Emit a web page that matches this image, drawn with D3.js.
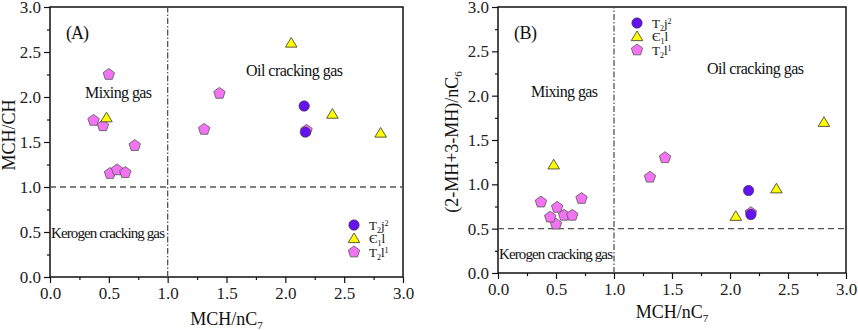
<!DOCTYPE html>
<html lang="en">
<head>
    <meta charset="UTF-8">
    <title>MCH diagrams</title>
    <style>
        body { margin: 0; background: #fff; }
    </style>
    <script src="https://d3js.org/d3.v7.min.js"></script>
</head>
<body>
<svg id="chart" width="858" height="330"></svg>
<script>
    // T2j2 (circles)
    const t2j_A_x = [2.16, 2.17];
    const t2j_A_y = [1.90, 1.61];
    const t2j_B_x = [2.16, 2.18];
    const t2j_B_y = [0.93, 0.66];
    // Є1l (triangles)
    const e1l_A_x = [0.48, 2.05, 2.40, 2.81];
    const e1l_A_y = [1.77, 2.60, 1.81, 1.60];
    const e1l_B_x = [0.48, 2.05, 2.40, 2.81];
    const e1l_B_y = [1.22, 0.64, 0.95, 1.70];
    // T2l1 (pentagons)
    const t2l_A_x = [0.50, 0.37, 0.45, 0.72, 0.51, 0.57, 0.64, 1.31, 1.44, 2.18];
    const t2l_A_y = [2.25, 1.74, 1.68, 1.46, 1.15, 1.19, 1.16, 1.64, 2.04, 1.63];
    const t2l_B_x = [0.50, 0.37, 0.45, 0.72, 0.51, 0.57, 0.64, 1.31, 1.44, 2.18];
    const t2l_B_y = [0.55, 0.80, 0.63, 0.84, 0.74, 0.65, 0.65, 1.08, 1.30, 0.68];

    const xTicks = [0, 0.5, 1, 1.5, 2, 2.5, 3];
    const yTicks = [0, 0.5, 1, 1.5, 2, 2.5, 3];

    const svg = d3.select("#chart");
    const serif = "'Liberation Serif', 'Times New Roman', serif";

    const purple = "#6412ee", yellow = "#ffff00", pink = "#f274f2";

    function pentagon(cx, cy, r) {
        let pts = [];
        for (let i = 0; i < 5; i++) {
            const a = -Math.PI / 2 + i * 2 * Math.PI / 5;
            pts.push([cx + r * Math.cos(a), cy + r * Math.sin(a)]);
        }
        return "M" + pts.join("L") + "Z";
    }
    function triangle(cx, cy, r) {
        return `M${cx},${cy - r}L${cx + r * 1.05},${cy + r * 0.75}L${cx - r * 1.05},${cy + r * 0.75}Z`;
    }

    function drawMarker(g, type, cx, cy, size) {
        if (type === "circle") {
            g.append("circle").attr("cx", cx).attr("cy", cy).attr("r", size)
                .attr("fill", purple).attr("stroke", "#333").attr("stroke-width", 0.6);
        } else if (type === "tri") {
            g.append("path").attr("d", triangle(cx, cy, size))
                .attr("fill", yellow).attr("stroke", "#333").attr("stroke-width", 0.8);
        } else {
            g.append("path").attr("d", pentagon(cx, cy, size))
                .attr("fill", pink).attr("stroke", "#555").attr("stroke-width", 0.8);
        }
    }

    function txt(sel, size) {
        return sel.append("text").attr("font-family", serif).attr("font-size", size).attr("fill", "#111");
    }

    function panel(opt) {
        const x = d3.scaleLinear().domain([0, 3]).range([opt.left, opt.right]);
        const y = d3.scaleLinear().domain([0, 3]).range([opt.bottom, opt.top]);
        const g = svg.append("g");

        // axes with minor ticks
        const xMinor = d3.range(0.25, 3, 0.5);
        const yMinor = d3.range(0.25, 3, 0.5);
        g.append("g").attr("transform", `translate(0,${opt.bottom})`)
            .call(d3.axisBottom(x).tickValues(xMinor).tickSize(3).tickFormat(""));
        g.append("g").attr("transform", `translate(${opt.left},0)`)
            .call(d3.axisLeft(y).tickValues(yMinor).tickSize(3).tickFormat(""));
        const xa = g.append("g").attr("transform", `translate(0,${opt.bottom})`)
            .call(d3.axisBottom(x).tickValues(xTicks).tickSize(6).tickPadding(4).tickFormat(d3.format(".1f")));
        const ya = g.append("g").attr("transform", `translate(${opt.left},0)`)
            .call(d3.axisLeft(y).tickValues(yTicks).tickSize(6).tickPadding(3).tickFormat(d3.format(".1f")));
        g.selectAll(".tick line").attr("stroke", "#111").attr("stroke-width", 1.2);
        g.selectAll(".domain").remove();
        [xa, ya].forEach(a => a.attr("font-family", serif).attr("font-size", 17)
            .selectAll("text").attr("fill", "#222"));

        // frame
        g.append("rect").attr("x", opt.left).attr("y", opt.top)
            .attr("width", opt.right - opt.left).attr("height", opt.bottom - opt.top)
            .attr("fill", "none").attr("stroke", "#111").attr("stroke-width", 1.5);

        // reference lines
        g.append("line").attr("x1", x(1)).attr("x2", x(1)).attr("y1", y(0)).attr("y2", y(3))
            .attr("stroke", "#555").attr("stroke-width", 1.3).attr("stroke-dasharray", "6,2,1.5,2");
        g.append("line").attr("x1", x(0)).attr("x2", x(3)).attr("y1", y(opt.hLine)).attr("y2", y(opt.hLine))
            .attr("stroke", "#555").attr("stroke-width", 1.3).attr("stroke-dasharray", "6,4");

        // region labels
        const lab = (t, px, py, size, len) => txt(g, size).attr("x", px).attr("y", py)
            .attr("textLength", len).attr("lengthAdjust", "spacing").text(t);
        lab(opt.tag, opt.tagX, 39, 18, 23);
        lab("Oil cracking gas", opt.oilX, opt.oilY, 16, 97);
        lab("Mixing gas", opt.mixX, opt.mixY, 16, 67);
        lab("Kerogen cracking gas", opt.kerX, opt.kerY, 15, 114);

        // axis titles
        const xt = txt(g, 18).attr("x", (opt.left + opt.right) / 2).attr("y", opt.xTitleY)
            .attr("text-anchor", "middle");
        xt.append("tspan").text("MCH/nC");
        xt.append("tspan").attr("dy", 4).attr("font-size", 11).text("7");

        const yt = txt(g, 18)
            .attr("transform", `translate(${opt.yTitleX},${opt.yTitleY}) rotate(-90)`)
            .attr("text-anchor", "middle");
        opt.yTitle(yt);

        // points
        const pg = g.append("g");
        opt.t2l[0].forEach((v, i) => drawMarker(pg, "pent", x(v), y(opt.t2l[1][i]), 6));
        opt.e1l[0].forEach((v, i) => drawMarker(pg, "tri", x(v), y(opt.e1l[1][i]), 5.5));
        opt.t2j[0].forEach((v, i) => drawMarker(pg, "circle", x(v), y(opt.t2j[1][i]), 5.2));

        // legend
        const lg = g.append("g");
        const items = [
            {type: "circle", s: 5.2, main: "T", sub: "2", rest: "j", sup: "2"},
            {type: "tri", s: 5.5, main: "Є", sub: "1", rest: "l", sup: ""},
            {type: "pent", s: 6, main: "T", sub: "2", rest: "l", sup: "1"}
        ];
        items.forEach((d, i) => {
            const cy = opt.legY + i * 13.5;
            drawMarker(lg, d.type, opt.legX, cy, d.s);
            const t = txt(lg, 13).attr("x", opt.legX + 15).attr("y", cy + 4.5);
            t.append("tspan").text(d.main);
            t.append("tspan").attr("dy", 3).attr("font-size", 8).text(d.sub);
            t.append("tspan").attr("dy", -3).text(d.rest);
            if (d.sup) t.append("tspan").attr("dy", -4).attr("font-size", 8).text(d.sup);
        });
    }

    panel({
        left: 50, right: 403, top: 7, bottom: 277, hLine: 1,
        tag: "(A)", tagX: 66, oilX: 246, oilY: 76, mixX: 85, mixY: 98, kerX: 51, kerY: 238,
        xTitleY: 325, yTitleX: 15, yTitleY: 135,
        yTitle: t => t.text("MCH/CH"),
        t2j: [t2j_A_x, t2j_A_y], e1l: [e1l_A_x, e1l_A_y], t2l: [t2l_A_x, t2l_A_y],
        legX: 354, legY: 225
    });

    panel({
        left: 498, right: 846, top: 7, bottom: 273, hLine: 0.5,
        tag: "(B)", tagX: 514, oilX: 707, oilY: 74, mixX: 531, mixY: 97, kerX: 499, kerY: 259,
        xTitleY: 318, yTitleX: 458, yTitleY: 142,
        yTitle: t => {
            t.append("tspan").text("(2-MH+3-MH)/nC");
            t.append("tspan").attr("dy", 4).attr("font-size", 11).text("6");
        },
        t2j: [t2j_B_x, t2j_B_y], e1l: [e1l_B_x, e1l_B_y], t2l: [t2l_B_x, t2l_B_y],
        legX: 637, legY: 23
    });
</script>
</body>
</html>
